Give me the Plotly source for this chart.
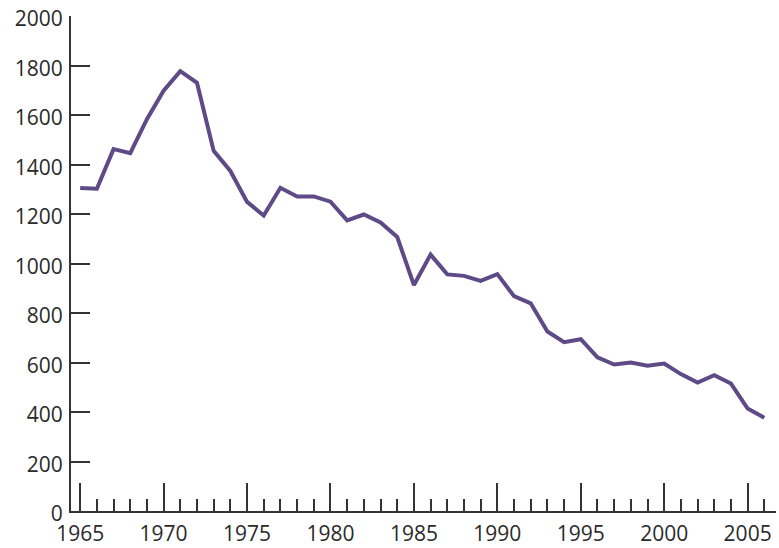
import plotly.graph_objects as go

years = list(range(1965, 2007))
values = [1305, 1302, 1462, 1446, 1583, 1698, 1777, 1730, 1455, 1374,
          1249, 1194, 1306, 1271, 1271, 1250, 1174, 1198, 1166, 1107,
          913, 1036, 956, 950, 930, 957, 868, 839, 725, 682,
          694, 621, 592, 600, 587, 596, 553, 519, 549, 515,
          414, 377]
x_tick_vals = [1965, 1970, 1975, 1980, 1985, 1990, 1995, 2000, 2005]
y_tick_vals = [0, 200, 400, 600, 800, 1000, 1200, 1400, 1600, 1800, 2000]

axis_color = "#333333"
fig = go.Figure()
fig.add_trace(go.Scatter(x=years, y=values, mode="lines",
                         line=dict(color="#5E4A87", width=4), showlegend=False,
                         hoverinfo="skip"))
fig.update_layout(
    width=779, height=548,
    margin=dict(l=71, r=3, t=16, b=37),
    paper_bgcolor="white", plot_bgcolor="white",
    font=dict(family="Open Sans", size=21, color="#2a2a2a"),
    xaxis=dict(range=[1964.45, 2006.7], tickvals=x_tick_vals,
               ticks="inside", ticklen=28, tickwidth=1.5, tickcolor=axis_color,
               minor=dict(dtick=1, tick0=1965, ticks="inside", ticklen=12,
                          tickwidth=1.5, tickcolor=axis_color, showgrid=False),
               showline=True, linecolor=axis_color, linewidth=2,
               showgrid=False, zeroline=False, automargin=False,
               ticklabelstandoff=3),
    yaxis=dict(range=[0, 2000], tickvals=y_tick_vals,
               ticks="inside", ticklen=19, tickwidth=1.5, tickcolor=axis_color,
               showline=True, linecolor=axis_color, linewidth=2,
               showgrid=False, zeroline=False, automargin=False,
               ticklabelstandoff=2, ticklabelshift=3),
)
fig.write_html("out.html", config={"displayModeBar": False},
               post_script="document.body.style.margin='0';document.body.style.overflow='hidden';")
